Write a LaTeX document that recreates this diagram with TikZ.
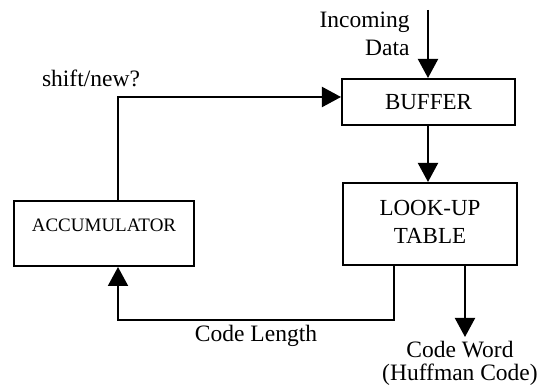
\documentclass[tikz,border=0pt]{standalone}
\usepackage{fontspec}
\setmainfont{Liberation Serif}
\usetikzlibrary{arrows.meta}
\pgfdeclarelayer{edgelayer}
\pgfdeclarelayer{nodelayer}
\pgfsetlayers{edgelayer,nodelayer,main}
\tikzstyle{block}=[rectangle, draw=black, fill=white, line width=1pt, inner sep=0pt, align=center, font=\fontsize{11.5}{14}\selectfont]
\tikzstyle{txt}=[inner sep=0pt, align=center, font=\fontsize{11.75}{14}\selectfont]
\tikzstyle{flow}=[draw=black, line width=1pt, -{Triangle[length=9.5pt,width=10pt]}]

\begin{document}
\begin{tikzpicture}[x=0.5pt, y=0.5pt]
	\useasboundingbox (0,0) rectangle (548,390);
	\begin{pgfonlayer}{nodelayer}
		\node [style=block, minimum width=86.5pt, minimum height=23pt] (buf) at (428.5, 288) {BUFFER};
		\node [style=block, minimum width=87pt, minimum height=41pt] (lut) at (430, 166) {\raisebox{1.5pt}{\begin{tabular}{@{}c@{}}LOOK-UP\\TABLE\end{tabular}}};
		\node [style=block, minimum width=90pt, minimum height=32.5pt, font=\fontsize{9.5}{11}\selectfont] (acc) at (104, 156.5) {\raisebox{8pt}{ACCUMULATOR}};
		\node [style=txt, anchor=east, align=right] (in) at (410, 356) {Incoming\\Data};
		\node [style=txt] (sn) at (91, 312) {shift/new?};
		\node [style=txt] (cl) at (256, 54) {Code Length};
		\node [style=txt, font=\fontsize{11.75}{11.5}\selectfont] (cw) at (460, 27) {Code Word\\(Huffman Code)};
		\coordinate (top) at (428, 380);
		\coordinate (s) at (118, 293);
		\coordinate (c) at (394, 70);
		\coordinate (w) at (465, 53);
	\end{pgfonlayer}
	\begin{pgfonlayer}{edgelayer}
		\draw [style=flow] (top) -- (top |- buf.north);
		\draw [style=flow] (buf.south -| top) -- (lut.north -| top);
		\draw [style=flow] (acc.north -| s) -- (s) -- (s -| buf.west);
		\draw [style=flow] (lut.south -| c) -- (c) -- (c -| s) -- (s |- acc.south);
		\draw [style=flow] (lut.south -| w) -- (w);
	\end{pgfonlayer}
\end{tikzpicture}
\end{document}
